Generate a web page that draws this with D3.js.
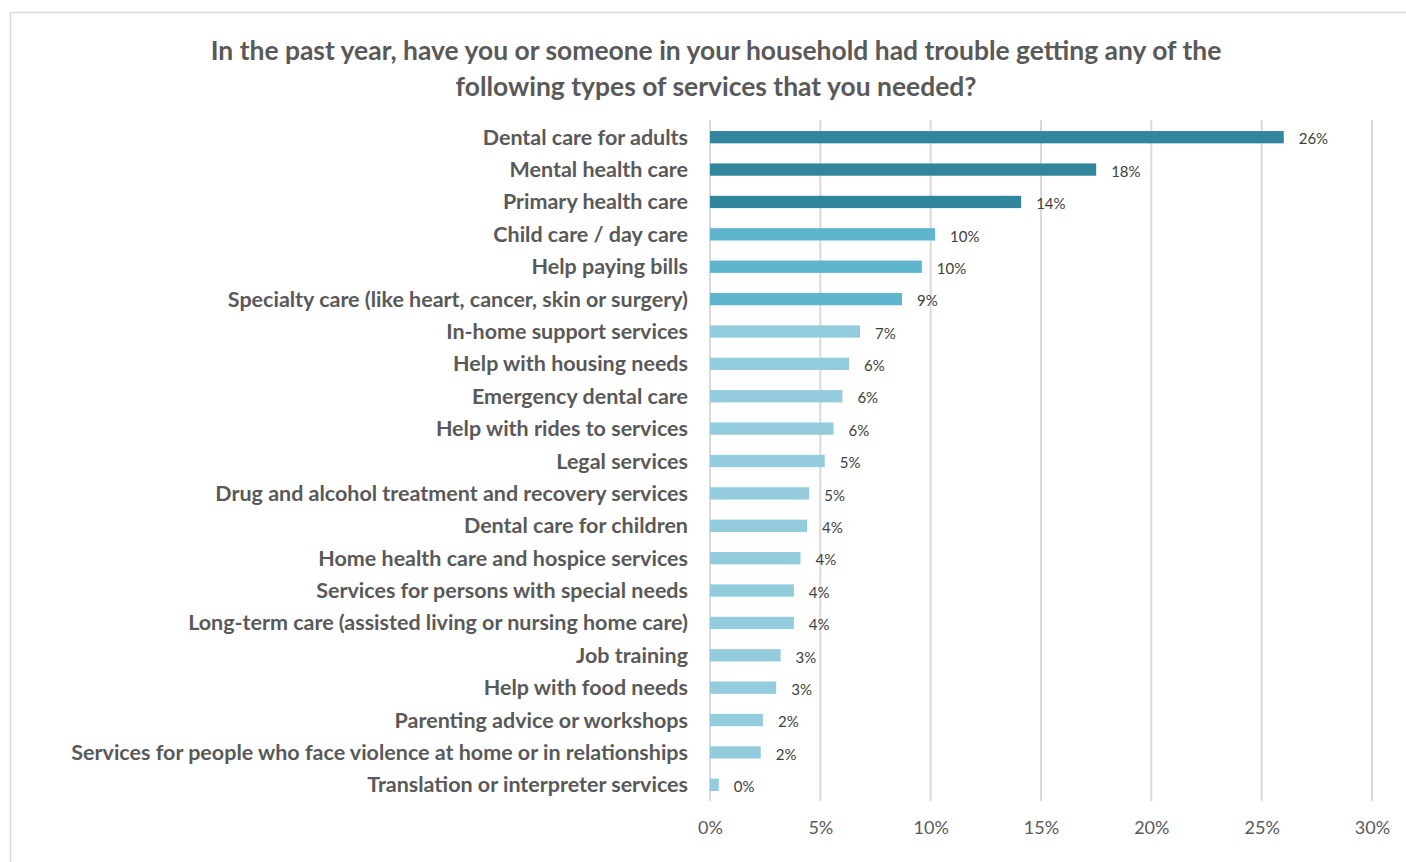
<!DOCTYPE html>
<html>
<head>
<meta charset="utf-8">
<script src="https://cdn.jsdelivr.net/npm/d3@7"></script>
<style>
  html, body { margin: 0; padding: 0; background: #ffffff; }
  svg { display: block; }
</style>
</head>
<body>
<svg id="chart" width="1406" height="862"></svg>
<script>
const titleLines = [
  "In the past year, have you or someone in your household had trouble getting any of the",
  "following types of services that you needed?"
];
const categories = [
  "Dental care for adults",
  "Mental health care",
  "Primary health care",
  "Child care / day care",
  "Help paying bills",
  "Specialty care (like heart, cancer, skin or surgery)",
  "In-home support services",
  "Help with housing needs",
  "Emergency dental care",
  "Help with rides to services",
  "Legal services",
  "Drug and alcohol treatment and recovery services",
  "Dental care for children",
  "Home health care and hospice services",
  "Services for persons with special needs",
  "Long-term care (assisted living or nursing home care)",
  "Job training",
  "Help with food needs",
  "Parenting advice or workshops",
  "Services for people who face violence at home or in relationships",
  "Translation or interpreter services"
];
const values = [26.0, 17.5, 14.1, 10.2, 9.6, 8.7, 6.8, 6.3, 6.0, 5.6, 5.2, 4.5, 4.4, 4.1, 3.8, 3.8, 3.2, 3.0, 2.4, 2.3, 0.4];
const valueLabels = ["26%","18%","14%","10%","10%","9%","7%","6%","6%","6%","5%","5%","4%","4%","4%","4%","3%","3%","2%","2%","0%"];
const tiers = [1,1,1,2,2,2,3,3,3,3,3,3,3,3,3,3,3,3,3,3,3];
const tickValues = [0, 5, 10, 15, 20, 25, 30];

const tierColor = {1: "#31859C", 2: "#5FB4CE", 3: "#93CDDD"};
const FONT = "Lato, 'Open Sans', 'Liberation Sans', sans-serif";

const svg = d3.select("#chart");

// outer border
svg.append("rect")
  .attr("x", 10.5).attr("y", 12.5)
  .attr("width", 1410).attr("height", 870)
  .attr("fill", "#fff").attr("stroke", "#D9D9D9").attr("stroke-width", 1.5);

const x = d3.scaleLinear().domain([0, 30]).range([710, 1372]);
const y = d3.scaleBand().domain(categories).range([121, 801]).paddingInner(0.62).paddingOuter(0.31);

// fit helper
function fitWidth(sel, target) {
  const node = sel.node();
  const fs = parseFloat(sel.attr("font-size"));
  const w = node.getComputedTextLength();
  if (w > 0) sel.attr("font-size", (fs * target / w).toFixed(2));
}

// gridlines
svg.append("g").selectAll("line")
  .data(tickValues)
  .join("line")
  .attr("x1", d => x(d)).attr("x2", d => x(d))
  .attr("y1", 120).attr("y2", 801)
  .attr("stroke", "#D9D9D9").attr("stroke-width", 2);

// axis labels
const axis = d3.axisBottom(x).tickValues(tickValues).tickFormat(d => d + "%").tickSize(0).tickPadding(0);
const axG = svg.append("g").attr("transform", "translate(0,821)").call(axis);
axG.select(".domain").remove();
axG.selectAll("text")
  .attr("font-family", FONT).attr("font-size", 18).attr("fill", "#595959")
  .attr("dy", "0.71em");

// bars
svg.append("g").selectAll("rect")
  .data(categories)
  .join("rect")
  .attr("x", x(0))
  .attr("y", d => y(d))
  .attr("width", (d, i) => x(values[i]) - x(0))
  .attr("height", y.bandwidth())
  .attr("fill", (d, i) => tierColor[tiers[i]]);

// value labels
svg.append("g").selectAll("text")
  .data(categories)
  .join("text")
  .attr("x", (d, i) => x(values[i]) + 15)
  .attr("y", d => y(d) + y.bandwidth() / 2 + 2)
  .attr("dy", "0.35em")
  .attr("font-family", FONT).attr("font-size", 15).attr("fill", "#404040")
  .text((d, i) => valueLabels[i]);

// category labels
const catG = svg.append("g");
catG.selectAll("text")
  .data(categories)
  .join("text")
  .attr("x", 688)
  .attr("y", d => y(d) + y.bandwidth() / 2)
  .attr("dy", "0.35em")
  .attr("text-anchor", "end")
  .attr("font-family", FONT).attr("font-weight", "bold").attr("font-size", 20).attr("fill", "#595959")
  .text(d => d);
// scale category font so longest label matches reference width
{
  const longest = catG.selectAll("text").filter(d => d === categories[19]);
  const w = longest.node().getComputedTextLength();
  const fs = 20 * 617 / w;
  catG.selectAll("text").attr("font-size", fs.toFixed(2));
}

// title
const tG = svg.append("g");
const t1 = tG.append("text")
  .attr("x", 716).attr("y", 60)
  .attr("text-anchor", "middle")
  .attr("font-family", FONT).attr("font-weight", "bold").attr("font-size", 24).attr("fill", "#595959")
  .text(titleLines[0]);
fitWidth(t1, 1011);
tG.append("text")
  .attr("x", 716).attr("y", 96)
  .attr("text-anchor", "middle")
  .attr("font-family", FONT).attr("font-weight", "bold").attr("font-size", t1.attr("font-size")).attr("fill", "#595959")
  .text(titleLines[1]);
</script>
</body>
</html>
